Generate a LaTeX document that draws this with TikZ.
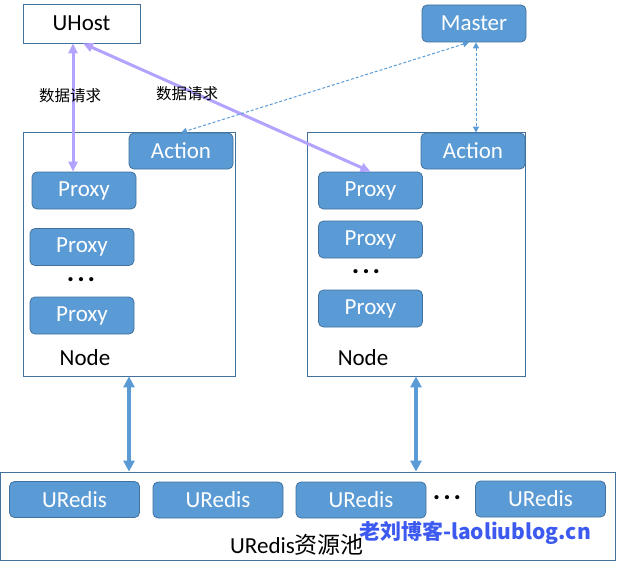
\documentclass[tikz,border=0pt]{standalone}
\usepackage{fontspec}
\setmainfont{Carlito}
\newfontfamily\cjk{Noto Sans CJK SC}
\usetikzlibrary{arrows.meta}
\definecolor{boxfill}{HTML}{5B9BD5}
\definecolor{boxline}{HTML}{41719C}
\definecolor{purp}{HTML}{B4A2FF}
\definecolor{wm}{HTML}{3D5AF0}
\begin{document}
\begin{tikzpicture}[x=1pt,y=-1pt,
  bbox/.style={draw=boxline, fill=boxfill, rounded corners=5pt, text=white,
    font=\fontsize{23}{23}\selectfont, inner sep=0pt, line width=0.8pt},
  wbox/.style={draw=boxline, fill=white, inner sep=0pt, line width=0.8pt},
  lbl/.style={font=\fontsize{23}{23}\selectfont, inner sep=0pt},
  zh/.style={font=\fontsize{15.5}{15.5}\selectfont\cjk, inner sep=0pt},
  dotsl/.style={font=\fontsize{28}{28}\selectfont\bfseries, inner sep=0pt},
  prox/.style={bbox, minimum width=104pt, minimum height=37pt},
  uredis/.style={bbox, minimum width=130pt, minimum height=36pt},
  purparrow/.style={draw=purp, line width=3pt, {Triangle[length=10pt,width=9pt]}-{Triangle[length=10pt,width=9pt]}},
  bluearrow/.style={draw=boxfill, line width=3.5pt, {Triangle[length=11pt,width=11pt]}-{Triangle[length=11pt,width=11pt]}},
  dasharrow/.style={draw=boxfill, line width=1pt, dash pattern=on 3pt off 2pt, {Triangle[length=6pt,width=6pt]}-{Triangle[length=6pt,width=6pt]}}
]
\useasboundingbox (0,0) rectangle (617,572);

% containers
\node[wbox, minimum width=212pt, minimum height=244pt] (ln) at (129,254) {};
\node[wbox, minimum width=218pt, minimum height=244pt] (rn) at (416,254) {};
\node[wbox, minimum width=615pt, minimum height=88pt] (pool) at (308,516) {};

% top
\node[wbox, minimum width=117pt, minimum height=39pt, font=\fontsize{23}{23}\selectfont] (uh) at (81.5,23.5) {UHost};
\node[bbox, minimum width=104pt, minimum height=37pt] (ma) at (474,23.5) {Master};

% left node
\node[bbox, minimum width=104pt, minimum height=36pt] (la) at (181,151) {Action};
\node[prox] (lp1) at (84,190.5) {Proxy};
\node[prox] (lp2) at (82,247) {Proxy};
\node[dotsl] (ld) at (81,280) {.\hspace{3pt}.\hspace{3pt}.};
\node[prox] (lp3) at (82,315.5) {Proxy};
\node[lbl] (lnl) at (85,358) {Node};

% right node
\node[bbox, minimum width=104pt, minimum height=36pt] (ra) at (473,151) {Action};
\node[prox] (rp1) at (370.5,190.5) {Proxy};
\node[prox] (rp2) at (370.5,239.5) {Proxy};
\node[dotsl] (rd) at (366,272) {.\hspace{3pt}.\hspace{3pt}.};
\node[prox] (rp3) at (370.5,308.5) {Proxy};
\node[lbl] (rnl) at (363,358) {Node};

% pool
\node[uredis] (u1) at (74.5,499.5) {URedis};
\node[uredis] (u2) at (218,500) {URedis};
\node[uredis] (u3) at (361,500) {URedis};
\node[dotsl] (pd) at (447,498) {.\hspace{3pt}.\hspace{3pt}.};
\node[uredis] (u4) at (540.5,499) {URedis};
\node[lbl] (pl) at (297,545) {URedis{\cjk 资源池}};

% connectors
\draw[purparrow] ([xshift=-8.5pt]uh.south) -- ([xshift=-8.5pt]uh.south |- lp1.north);
\draw[purparrow] ([xshift=1.5pt]uh.south) -- (rp1.north);
\draw[dasharrow] ([xshift=-5pt]ma.south) -- (la.north);
\draw[dasharrow] ([xshift=2pt]ma.south) -- ([xshift=2pt]ma.south |- ra.north);
\draw[bluearrow] (ln.south) -- (ln.south |- pool.north);
\draw[bluearrow] (rn.south) -- (rn.south |- pool.north);

% labels
\node[zh] (t1) at (70,96) {数据请求};
\node[zh] (t2) at (187,94) {数据请求};

% watermark
\node[font=\fontsize{21}{21}\selectfont\cjk\bfseries, text=wm, inner sep=0pt] (wmk) at (475,533) {老刘博客-laoliublog.cn};
\end{tikzpicture}
\end{document}
